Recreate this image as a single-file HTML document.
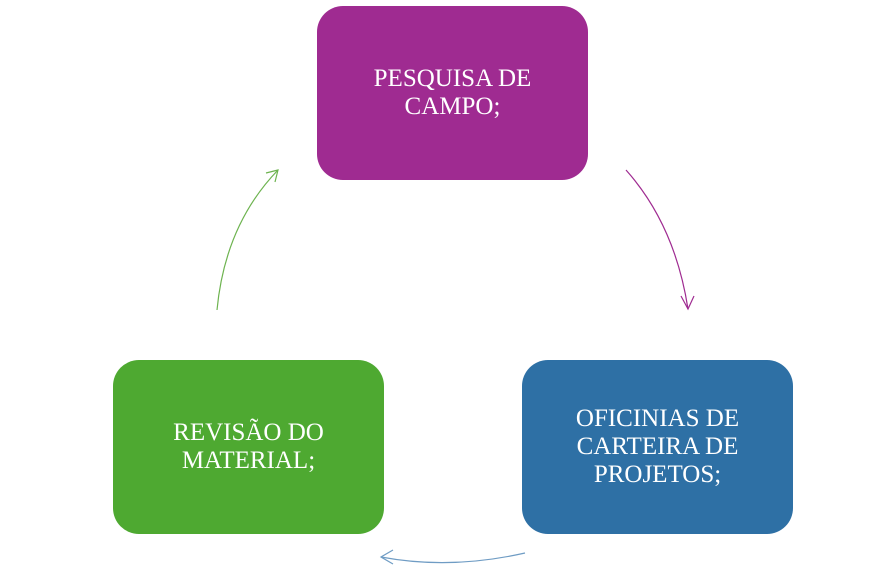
<!DOCTYPE html>
<html><head><style>
body{margin:0;width:895px;height:575px;background:#fff;position:relative;overflow:hidden}
.b{position:absolute;width:271px;height:174px;border-radius:26px;color:#fff;display:flex;align-items:center;justify-content:center;text-align:center;font-family:"Liberation Serif",serif;font-size:25px;line-height:28px}
</style></head><body>
<div class="b" style="left:317px;top:6px;background:#9f2b91">PESQUISA DE<br>CAMPO;</div>
<div class="b" style="left:522px;top:360px;background:#2e70a5">OFICINIAS DE<br>CARTEIRA DE<br>PROJETOS;</div>
<div class="b" style="left:113px;top:360px;background:#4ea931">REVISÃO DO<br>MATERIAL;</div>
<svg width="895" height="575" style="position:absolute;left:0;top:0" fill="none" stroke-width="1.2">
<path d="M626 170 Q675 225 688 309" stroke="#9f2b91"/>
<path d="M681 296 L688 309 L694 296" stroke="#9f2b91"/>
<path d="M525 553 Q450 570 381 557" stroke="#6f9cc4"/>
<path d="M393 550 L381 557 L393 564" stroke="#6f9cc4"/>
<path d="M217 310 Q225 225 278 170" stroke="#6db34f"/>
<path d="M266 173 L278 170 L275 182" stroke="#6db34f"/>
</svg>
</body></html>
